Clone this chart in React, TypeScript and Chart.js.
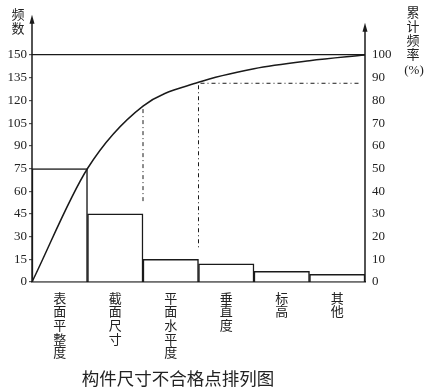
import React, { useEffect, useRef } from 'react';
import { Chart, registerables } from 'chart.js';

Chart.register(...registerables);

// ---- data ----
const categories: string[][] = [
  ['表', '面', '平', '整', '度'],
  ['截', '面', '尺', '寸'],
  ['平', '面', '水', '平', '度'],
  ['垂', '直', '度'],
  ['标', '高'],
  ['其', '他'],
];
const frequencies = [75, 45, 15, 12, 7, 5];
const cumulativePercent = [0, 50, 77.5, 88, 94, 97.5, 100];
const leftTicks = [0, 15, 30, 45, 60, 75, 90, 105, 120, 135, 150];
const rightTicks = [0, 10, 20, 30, 40, 50, 60, 70, 80, 90, 100];
const abcBoundaries = [2, 3];
const chartTitle = '构件尺寸不合格点排列图';
const leftAxisTitle = ['频', '数'];
const rightAxisTitle = ['累', '计', '频', '率', '(%)'];

const LEFT_MAX = 176.6;
const RIGHT_MAX = LEFT_MAX / 1.5;
const INK = '#1a1a1a';

function arrowAxis(ctx: CanvasRenderingContext2D, x: number, yBottom: number, tipY: number) {
  ctx.beginPath();
  ctx.moveTo(x, yBottom);
  ctx.lineTo(x, tipY + 5);
  ctx.stroke();
  ctx.beginPath();
  ctx.moveTo(x, tipY);
  ctx.lineTo(x - 2.5, tipY + 9);
  ctx.lineTo(x + 2.5, tipY + 9);
  ctx.closePath();
  ctx.fill();
}

const decorPlugin = {
  id: 'decor',
  afterDatasetsDraw(chart: any) {
    const { ctx, chartArea: a, scales } = chart;
    const xs = scales.x2;
    const yL = scales.y;
    const yR = scales.y1;
    ctx.save();
    ctx.strokeStyle = INK;
    ctx.fillStyle = INK;
    ctx.lineWidth = 1.5;
    arrowAxis(ctx, a.left, a.bottom, a.top);
    arrowAxis(ctx, a.right, a.bottom, a.top + 8);

    ctx.lineWidth = 1;
    ctx.setLineDash([4, 3, 1, 3]);
    abcBoundaries.forEach((i) => {
      const x = xs.getPixelForValue(i);
      const yTop = yR.getPixelForValue(cumulativePercent[i]) + 3;
      const yBot = yL.getPixelForValue(frequencies[i - 1]) - 10;
      ctx.beginPath();
      ctx.moveTo(x, yTop);
      ctx.lineTo(x, yBot);
      ctx.stroke();
    });
    const last = abcBoundaries[abcBoundaries.length - 1];
    const yh = yR.getPixelForValue(cumulativePercent[last]) + 1;
    ctx.beginPath();
    ctx.moveTo(xs.getPixelForValue(last) + 2, yh);
    ctx.lineTo(a.right - 6, yh);
    ctx.stroke();
    ctx.setLineDash([]);

    ctx.fillStyle = '#222';
    ctx.textAlign = 'center';
    ctx.textBaseline = 'middle';
    ctx.font = '13px "Noto Sans CJK SC"';
    leftAxisTitle.forEach((c, i) => ctx.fillText(c, 18, 14 + i * 14));
    rightAxisTitle.forEach((c, i) => {
      if (c.length > 1) {
        ctx.font = '13px "Liberation Serif"';
        ctx.fillText(c, 414, 13 + i * 14 + 2);
      } else {
        ctx.font = '13px "Noto Sans CJK SC"';
        ctx.fillText(c, 413, 12 + i * 14);
      }
    });
    ctx.font = '17.5px "Noto Sans CJK SC"';
    ctx.fillText(chartTitle, 178, 378);
    ctx.restore();
  },
};

export default function App() {
  const ref = useRef<HTMLCanvasElement | null>(null);
  useEffect(() => {
    if (!ref.current) return;
    const tickFont = { family: '"Liberation Serif"', size: 13 };
    const chart = new Chart(ref.current, {
      type: 'bar',
      data: {
        labels: categories as any,
        datasets: [
          {
            type: 'bar',
            data: frequencies,
            backgroundColor: '#ffffff',
            borderColor: INK,
            borderWidth: 1.5,
            barPercentage: 1,
            categoryPercentage: 1,
            grouped: false,
            xAxisID: 'x',
            yAxisID: 'y',
            order: 2,
          } as any,
          {
            type: 'line',
            data: cumulativePercent.map((v, i) => ({ x: i, y: v })),
            borderColor: INK,
            borderWidth: 1.5,
            pointRadius: 0,
            fill: false,
            cubicInterpolationMode: 'monotone',
            xAxisID: 'x2',
            yAxisID: 'y1',
            order: 1,
          } as any,
        ],
      },
      options: {
        animation: false,
        responsive: false,
        devicePixelRatio: 1,
        layout: { padding: { top: 10, left: 0, right: 0, bottom: 0 } },
        plugins: { legend: { display: false }, tooltip: { enabled: false }, title: { display: false } },
        scales: {
          x: {
            type: 'category',
            position: 'bottom',
            offset: true,
            grid: { display: false, drawTicks: false },
            border: { display: true, color: INK, width: 1.5 },
            ticks: {
              font: { family: '"Noto Sans CJK SC"', size: 13, lineHeight: 1.05 },
              color: '#222',
              padding: 9,
              maxRotation: 0,
              minRotation: 0,
              autoSkip: false,
            },
            afterFit: (s: any) => {
              s.height = 105;
            },
          },
          x2: { type: 'linear', min: 0, max: 6, display: false, offset: false },
          y: {
            type: 'linear',
            position: 'left',
            min: 0,
            max: LEFT_MAX,
            afterBuildTicks: (s: any) => {
              s.ticks = leftTicks.map((v) => ({ value: v }));
            },
            grid: {
              color: (c: any) => (c.tick && c.tick.value === 150 ? INK : 'rgba(0,0,0,0)'),
              lineWidth: 1.2,
              drawTicks: true,
              tickLength: 3,
              tickColor: '#555',
            },
            border: { display: false },
            ticks: { font: tickFont, color: '#222', padding: 2 },
            afterFit: (s: any) => {
              s.width = 32;
            },
          },
          y1: {
            type: 'linear',
            position: 'right',
            min: 0,
            max: RIGHT_MAX,
            afterBuildTicks: (s: any) => {
              s.ticks = rightTicks.map((v) => ({ value: v }));
            },
            grid: { display: false, drawTicks: false },
            border: { display: false },
            ticks: { font: tickFont, color: '#222', padding: 7 },
            afterFit: (s: any) => {
              s.width = 66;
            },
          },
        },
      } as any,
      plugins: [decorPlugin],
    });
    return () => chart.destroy();
  }, []);
  return (
    <div style={{ position: 'absolute', left: 0, top: 0, width: 431, height: 387, background: '#fff' }}>
      <canvas ref={ref} width={431} height={387} style={{ display: 'block' }} />
    </div>
  );
}
